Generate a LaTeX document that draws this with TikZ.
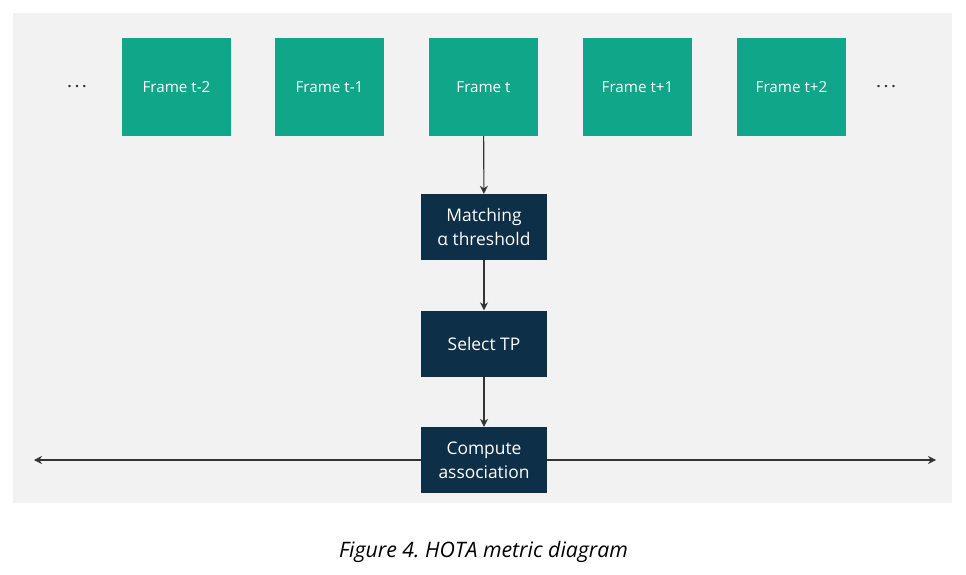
\documentclass[tikz,border=0pt]{standalone}
\usepackage{fontspec}
\setmainfont{Open Sans}
\newfontfamily\capfont{Open Sans}
\usetikzlibrary{arrows.meta}
\definecolor{bggray}{HTML}{F2F2F2}
\definecolor{teal}{HTML}{10A689}
\definecolor{navy}{HTML}{0D2F48}
\definecolor{linec}{HTML}{333333}
\frenchspacing
\begin{document}
\begin{tikzpicture}[x=1pt,y=-1pt,
  framebox/.style={fill=teal,draw=none,minimum width=109pt,minimum height=98pt,inner sep=0pt,text=white,font=\fontsize{15.2}{17}\selectfont},
  stepbox/.style={fill=navy,draw=none,minimum width=126pt,minimum height=66pt,inner sep=0pt,text=white,align=center,font=\fontsize{17.4}{24}\selectfont},
  conn/.style={draw=linec,line width=1.1pt,-{Stealth[length=8pt,width=8pt]}},
  dotsl/.style={text=linec,font=\bfseries\fontsize{14}{17}\selectfont}]
\useasboundingbox (0,0) rectangle (966,575);
\fill[white] (0,0) rectangle (966,575);
\fill[bggray] (13,13) rectangle (952,503);
\node[framebox] (f1) at (176.5,87) {Frame t-2};
\node[framebox] (f2) at (329.5,87) {Frame t-1};
\node[framebox] (f3) at (483.5,87) {Frame t};
\node[framebox] (f4) at (637.5,87) {Frame t+1};
\node[framebox] (f5) at (791.5,87) {Frame t+2};
\node[dotsl] (dl) at (77,87) {.\hspace{3.5pt}.\hspace{3.5pt}.};
\node[dotsl] (dr) at (886,87) {.\hspace{3.5pt}.\hspace{3.5pt}.};
\node[stepbox] (m) at (484,227) {Matching\\α threshold};
\node[stepbox] (s) at (484,343.5) {Select TP};
\node[stepbox] (c) at (484,460) {Compute\\association};
\coordinate (le) at (34,460);
\coordinate (re) at (936,460);
\draw[conn] (f3) -- (m);
\draw[conn] (m) -- (s);
\draw[conn] (s) -- (c);
\draw[conn] (c.west) -- (le);
\draw[conn] (c.east) -- (re);
\node[font=\capfont\itshape\fontsize{21.3}{24}\selectfont,text=black] (cap) at (483.5,552) {Figure 4. HOTA metric diagram};
\end{tikzpicture}
\end{document}
